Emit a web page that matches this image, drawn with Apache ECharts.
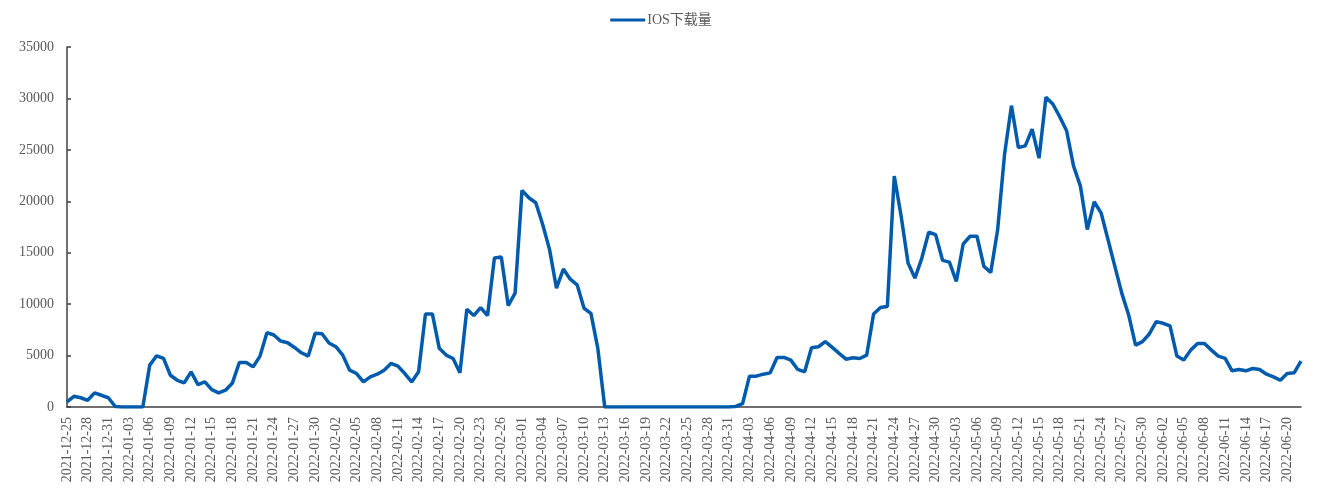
<!DOCTYPE html>
<html>
<head>
<meta charset="utf-8">
<script src="https://cdn.jsdelivr.net/npm/echarts@6/dist/echarts.min.js"></script>
<style>
html,body{margin:0;padding:0;background:#fff;}
#chart{width:1322px;height:492px;}
</style>
</head>
<body>
<div id="chart"></div>
<script>
var seriesName = 'IOS下载量';
var startDate = '2021-12-25';
var iosDownloads = [
  500, 1040, 900, 650, 1370, 1140, 900, 50, 0, 0,
  0, 0, 4070, 4980, 4720, 3090, 2600, 2340, 3420, 2180,
  2440, 1690, 1370, 1630, 2340, 4330, 4330, 3900, 4950, 7230,
  7000, 6410, 6250, 5790, 5270, 4950, 7180, 7120, 6220, 5860,
  5045, 3580, 3255, 2440, 2930, 3190, 3580, 4230, 3970, 3255,
  2440, 3420, 9050, 9050, 5700, 5045, 4720, 3320, 9500, 8890,
  9670, 8890, 14480, 14580, 9860, 11070, 21060, 20340, 19860, 17740,
  15300, 11560, 13410, 12430, 11880, 9600, 9110, 5700, 0, 0,
  0, 0, 0, 0, 0, 0, 0, 0, 0, 0,
  0, 0, 0, 0, 0, 0, 0, 50, 330, 3000,
  3000, 3190, 3320, 4820, 4820, 4560, 3650, 3420, 5760, 5860,
  6350, 5790, 5210, 4650, 4780, 4720, 5045, 9050, 9670, 9770,
  22460, 18550, 14000, 12530, 14480, 16990, 16760, 14260, 14090, 12200,
  15850, 16600, 16600, 13670, 13090, 17250, 24580, 29300, 25230, 25390,
  27020, 24190, 30110, 29460, 28220, 26850, 23440, 21480, 17250, 19950,
  18880, 16280, 13670, 11070, 8950, 6020, 6350, 7100, 8300, 8140,
  7880, 4950, 4560, 5530, 6180, 6180, 5530, 4950, 4720, 3520,
  3650, 3520, 3740, 3650, 3190, 2930, 2600, 3250, 3320, 4460
];
var dates = [];
(function(){
  var d = new Date(startDate + 'T00:00:00Z');
  for (var i = 0; i < iosDownloads.length; i++) {
    var y = d.getUTCFullYear(), m = d.getUTCMonth() + 1, dd = d.getUTCDate();
    dates.push(y + '-' + (m < 10 ? '0' : '') + m + '-' + (dd < 10 ? '0' : '') + dd);
    d.setUTCDate(d.getUTCDate() + 1);
  }
})();
var yMin = 0, yMax = 35000, yInterval = 5000;

var chart = echarts.init(document.getElementById('chart'));
var serif = '"Liberation Serif", "Times New Roman", "Noto Sans CJK SC", serif';
chart.setOption({
  animation: false,
  backgroundColor: '#ffffff',
  legend: {
    top: 8,
    left: 'center',
    itemWidth: 35,
    itemHeight: 3,
    icon: 'rect',
    itemGap: 10,
    textStyle: { fontFamily: serif, fontSize: 14, color: '#595959', padding: [0, 0, 0, -3] },
    data: [seriesName]
  },
  grid: { left: 67, right: 21, top: 47, bottom: 85, containLabel: false },
  xAxis: {
    type: 'category',
    data: dates,
    boundaryGap: false,
    axisLine: { lineStyle: { color: '#404040', width: 1.5 } },
    axisTick: { show: false },
    axisLabel: {
      rotate: 90,
      interval: 2,
      margin: 10,
      fontFamily: serif,
      fontSize: 14,
      color: '#595959'
    },
    splitLine: { show: false }
  },
  yAxis: {
    type: 'value',
    min: yMin,
    max: yMax,
    interval: yInterval,
    axisLine: { show: true, lineStyle: { color: '#404040', width: 1.5 } },
    axisTick: { show: true, inside: true, length: 4, lineStyle: { color: '#404040', width: 1.5 } },
    axisLabel: {
      margin: 13, fontFamily: serif, fontSize: 14, color: '#595959',
      formatter: function (v) { return String(v); }
    },
    splitLine: { show: false }
  },
  series: [{
    name: seriesName,
    type: 'line',
    data: iosDownloads,
    showSymbol: false,
    symbol: 'none',
    lineStyle: { color: '#005BAC', width: 3.5 },
    itemStyle: { color: '#005BAC' }
  }]
});
</script>
</body>
</html>
